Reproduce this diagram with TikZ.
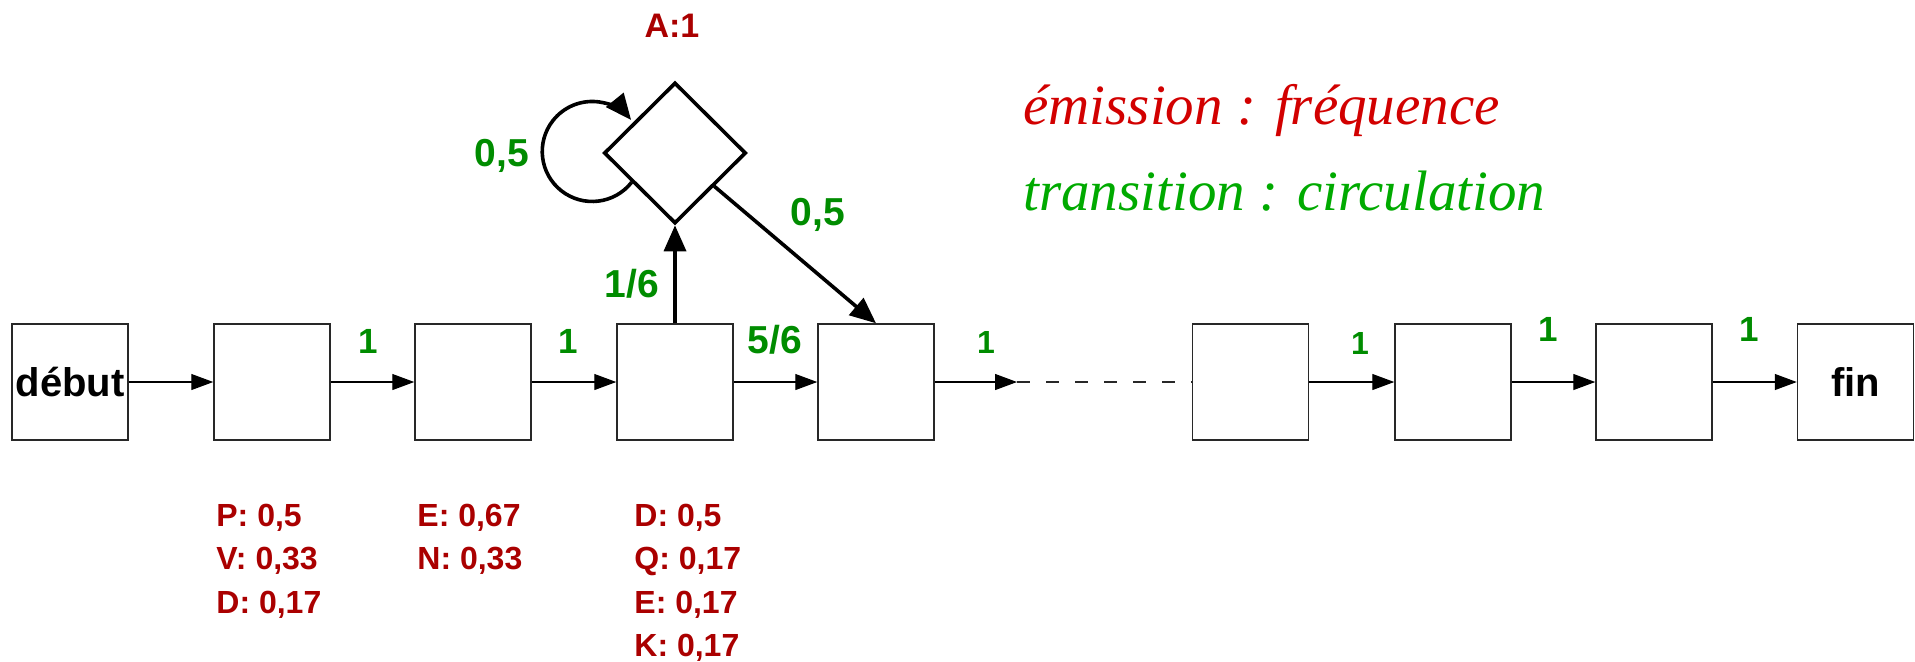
\documentclass[tikz,border=0pt]{standalone}
\usepackage{fontspec}
\setmainfont{Liberation Sans}
\newfontfamily\legendfont{Liberation Serif}
\usetikzlibrary{arrows.meta,shapes.geometric}
\definecolor{labgreen}{RGB}{0,140,0}
\definecolor{labred}{RGB}{170,0,0}
\definecolor{legred}{RGB}{210,0,0}
\definecolor{leggreen}{RGB}{0,170,0}
\definecolor{boxgray}{RGB}{40,40,40}
\begin{document}
\begin{tikzpicture}[x=0.5pt,y=-0.5pt,
  stbox/.style={draw=boxgray,line width=0.75pt,minimum width=58pt,minimum height=58pt,inner sep=0pt,
    font=\bfseries\fontsize{20}{24}\selectfont},
  statediamond/.style={diamond,draw=black,line width=1.8pt,minimum width=71pt,minimum height=70.5pt,inner sep=0pt},
  thinarrow/.style={draw=black,line width=0.6pt,-{Triangle[length=11pt,width=8pt]}},
  thickarrow/.style={draw=black,line width=1.8pt,-{Triangle[length=13pt,width=11pt]}},
  translab/.style={text=labgreen,anchor=base,inner sep=0pt,font=\bfseries\fontsize{17.5}{20}\selectfont},
  translabsmall/.style={translab,font=\bfseries\fontsize{16}{19}\selectfont},
  translabbig/.style={translab,font=\bfseries\fontsize{19.5}{23}\selectfont},
  emitlab/.style={text=labred,anchor=base west,inner sep=0pt,font=\bfseries\fontsize{16}{19}\selectfont},
  legendtext/.style={anchor=base west,inner sep=0pt,font=\legendfont\itshape\fontsize{28.5}{34}\selectfont}
]
\useasboundingbox (0,0) rectangle (1915,661);

% states
\node[stbox] (debut) at (70,382) {début};
\node[stbox] (s2) at (272,382) {};
\node[stbox] (s3) at (473,382) {};
\node[stbox] (s4) at (675,382) {};
\node[stbox] (s5) at (876,382) {};
\node[stbox] (s6) at (1250.5,382) {};
\node[stbox] (s7) at (1453,382) {};
\node[stbox] (s8) at (1654,382) {};
\node[stbox] (fin) at (1855.5,382) {fin};
\node[statediamond] (d) at (675,153) {};
\coordinate (gap) at (1017,382);

% connectors
\draw[thinarrow] (debut) -- (s2);
\draw[thinarrow] (s2) -- (s3);
\draw[thinarrow] (s3) -- (s4);
\draw[thinarrow] (s4) -- (s5);
\draw[thinarrow] (s5) -- (gap);
\draw[draw=boxgray,line width=0.6pt,dash pattern=on 6.5pt off 8pt] (gap) -- (s6);
\draw[thinarrow] (s6) -- (s7);
\draw[thinarrow] (s7) -- (s8);
\draw[thinarrow] (s8) -- (fin);
\draw[thickarrow] (s4.north) -- (d.south);
\draw[thickarrow] (d) -- (s5.north);
\draw[thickarrow] (d.214) arc[start angle=-38,end angle=-321,radius=25pt];

% transition labels
\node[translab] (t23) at (368,353) {1};
\node[translab] (t34) at (568,353) {1};
\node[translabbig] (t45) at (775,353) {5/6};
\node[translabsmall] (t5g) at (986,353) {1};
\node[translabsmall] (t67) at (1360,354) {1};
\node[translab] (t78) at (1548,341) {1};
\node[translab] (t8f) at (1749,341) {1};
\node[translabbig] (t4d) at (632,297) {1/6};
\node[translabbig] (tdd) at (502,166) {0,5};
\node[translabbig] (td5) at (818,225) {0,5};

% emission labels
\node[text=labred,anchor=base,inner sep=0pt,font=\bfseries\fontsize{17}{20}\selectfont] (ea) at (672,37) {A:1};
\node[emitlab] (e2a) at (216,526) {P: 0,5};
\node[emitlab] (e2b) at (216,569.5) {V: 0,33};
\node[emitlab] (e2c) at (216,613) {D: 0,17};
\node[emitlab] (e3a) at (417,526) {E: 0,67};
\node[emitlab] (e3b) at (417,569.5) {N: 0,33};
\node[emitlab] (e4a) at (634,526) {D: 0,5};
\node[emitlab] (e4b) at (634,569.5) {Q: 0,17};
\node[emitlab] (e4c) at (634,613) {E: 0,17};
\node[emitlab] (e4d) at (634,656.5) {K: 0,17};

% legend
\node[legendtext,text=legred] (leg1) at (1023,124) {émission : fréquence};
\node[legendtext,text=leggreen] (leg2) at (1023,210) {transition : circulation};
\end{tikzpicture}
\end{document}
